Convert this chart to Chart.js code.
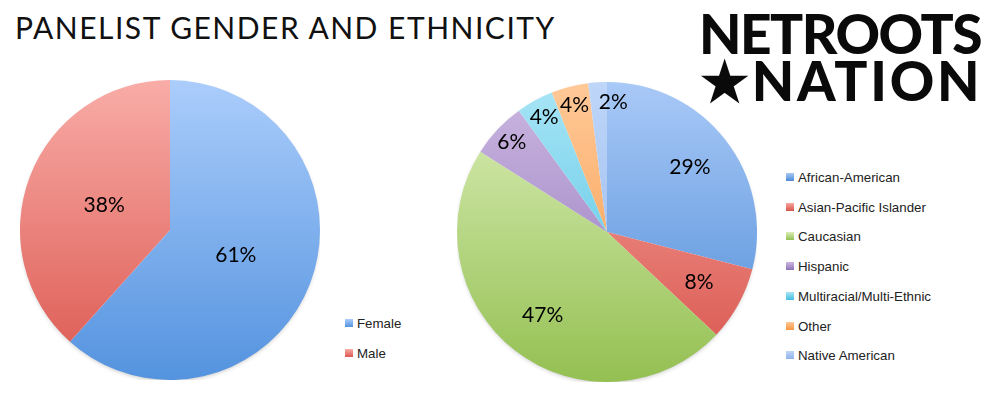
<!DOCTYPE html>
<html>
<head>
<meta charset="utf-8">
<script src="https://cdn.jsdelivr.net/npm/chart.js@4"></script>
<style>
  body { margin:0; width:1000px; height:400px; background:#fff; position:relative; overflow:hidden; font-family:Lato, sans-serif; }
  #title { position:absolute; left:15px; top:9px; font-size:30px; color:#111; letter-spacing:1.5px; white-space:nowrap; }
  .logo { position:absolute; font-family:Lato, sans-serif; font-weight:900; color:#0a0a0a; font-size:55px; line-height:47px; white-space:nowrap; }
  #genderCanvas { position:absolute; left:20px; top:80px; }
  #ethCanvas { position:absolute; left:457px; top:82px; }
  .legend { position:absolute; font-family:"Liberation Sans", Arial, sans-serif; font-size:13.3px; color:#222; }
  .legend .row { position:absolute; white-space:nowrap; height:16px; line-height:16px; }
  .legend .box { display:inline-block; width:8px; height:8px; margin-right:4px; vertical-align:1px; }
</style>
</head>
<body>
<div id="title">PANELIST GENDER AND ETHNICITY</div>
<div class="logo" style="left:699px; top:10px; letter-spacing:-1.5px;">NETROOTS</div>
<div class="logo" style="left:700px; top:57px; letter-spacing:2.7px;">&#9733;NATION</div>

<canvas id="genderCanvas" width="300" height="300"></canvas>
<canvas id="ethCanvas" width="300" height="300"></canvas>
<div class="legend" id="genderLegend" style="left:345px; top:316px;"></div>
<div class="legend" id="ethLegend" style="left:786px; top:170px;"></div>

<script>
// gender pie
const genderLabels = ['Female', 'Male'];
const genderValues = [61, 38];
const genderTop = ['#abcdfb', '#f9aca7'];
const genderBottom = ['#5493df', '#db5850'];

// ethnicity pie
const ethLabels = ['African-American', 'Asian-Pacific Islander', 'Caucasian', 'Hispanic',
  'Multiracial/Multi-Ethnic', 'Other', 'Native American'];
const ethValues = [29, 8, 47, 6, 4, 4, 2];
const ethTop = ['#a9c9f7', '#f6a7a1', '#dcefba', '#ccb7e1', '#a9e5f6', '#ffc998', '#bed6f8'];
const ethBottom = ['#4b8ad6', '#d8534b', '#94c052', '#8f74b9', '#45bddf', '#f79540', '#8fb3ec'];

function gradientFill(tops, bottoms) {
  return function(ctx) {
    const chart = ctx.chart;
    const area = chart.chartArea;
    const i = ctx.dataIndex;
    if (!area) return bottoms[i];
    const g = chart.ctx.createLinearGradient(0, area.top, 0, area.bottom);
    g.addColorStop(0, tops[i]);
    g.addColorStop(1, bottoms[i]);
    return g;
  };
}

// percent text inside slices, thin slices pushed toward the rim
const pctLabels = {
  id: 'pctLabels',
  afterDatasetsDraw(chart, args, opts) {
    const ctx = chart.ctx;
    const meta = chart.getDatasetMeta(0);
    ctx.save();
    ctx.font = '21px Lato, sans-serif';
    ctx.fillStyle = '#000';
    ctx.textAlign = 'center';
    ctx.textBaseline = 'middle';
    meta.data.forEach((arc, i) => {
      const p = arc.getProps(['x', 'y', 'startAngle', 'endAngle', 'outerRadius'], true);
      const mid = (p.startAngle + p.endAngle) / 2;
      const v = chart.data.datasets[0].data[i];
      const frac = v < 7 ? opts.smallRadius : opts.radius;
      const r = p.outerRadius * frac;
      let x = p.x + Math.cos(mid) * r;
      const text = v + '%';
      // keep the label clear of the left edge of the top slice
      if (opts.smallRadius && v < 3) x += ctx.measureText(text).width / 2;
      ctx.fillText(text, x, p.y + Math.sin(mid) * r);
    });
    ctx.restore();
  }
};

// soft shadow under the pie
const pieShadow = {
  id: 'pieShadow',
  beforeDatasetsDraw(chart) {
    const arc = chart.getDatasetMeta(0).data[0];
    if (!arc) return;
    const ctx = chart.ctx;
    ctx.save();
    ctx.shadowColor = 'rgba(0,0,0,0.3)';
    ctx.shadowBlur = 5;
    ctx.shadowOffsetY = 2;
    ctx.fillStyle = '#fff';
    ctx.beginPath();
    ctx.arc(arc.x, arc.y, arc.outerRadius - 2, 0, Math.PI * 2);
    ctx.fill();
    ctx.restore();
  }
};

function makePie(id, labels, values, tops, bottoms, labelOpts) {
  return new Chart(document.getElementById(id), {
    type: 'pie',
    data: {
      labels: labels,
      datasets: [{
        data: values,
        backgroundColor: gradientFill(tops, bottoms),
        borderWidth: 0
      }]
    },
    options: {
      responsive: false,
      animation: false,
      layout: { padding: 0 },
      plugins: {
        legend: { display: false },
        tooltip: { enabled: false },
        pctLabels: labelOpts
      }
    },
    plugins: [pieShadow, pctLabels]
  });
}

makePie('genderCanvas', genderLabels, genderValues, genderTop, genderBottom, { radius: 0.47, smallRadius: 0 });
makePie('ethCanvas', ethLabels, ethValues, ethTop, ethBottom, { radius: 0.7, smallRadius: 0.87 });

function buildLegend(elId, labels, tops, bottoms, step) {
  const el = document.getElementById(elId);
  labels.forEach((name, i) => {
    const row = document.createElement('div');
    row.className = 'row';
    row.style.top = (i * step) + 'px';
    row.innerHTML = '<span class="box" style="background:linear-gradient(' + tops[i] + ',' + bottoms[i] + ')"></span>' + name;
    el.appendChild(row);
  });
}
buildLegend('genderLegend', genderLabels, genderTop, genderBottom, 30);
buildLegend('ethLegend', ethLabels, ethTop, ethBottom, 29.7);
</script>
</body>
</html>
